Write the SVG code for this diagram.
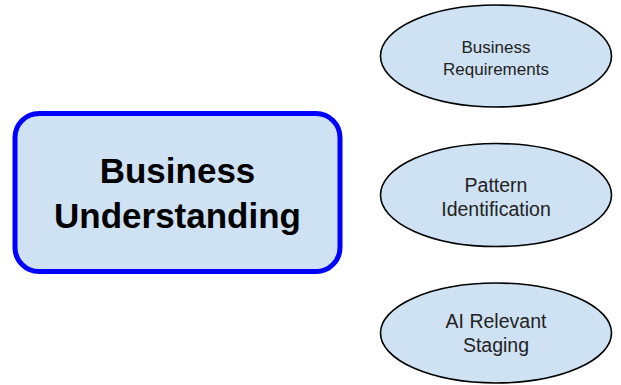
<svg xmlns="http://www.w3.org/2000/svg" width="621" height="385" viewBox="0 0 621 385">
<style>
.main{fill:#cfe2f3;stroke:#0000ff;stroke-width:5}
.ell{fill:#cfe2f3;stroke:#000;stroke-width:1.6}
.title{font-family:"Liberation Sans",Arial,sans-serif;font-weight:bold;font-size:35px;fill:#000;text-anchor:middle}
.lbl{font-family:"Liberation Sans",Arial,sans-serif;fill:#222;text-anchor:middle}
</style>
<rect width="621" height="385" fill="#fff"/>
<g id="business-understanding">
<rect class="main" x="15" y="113.5" width="325" height="158" rx="24" ry="24"/>
<text class="title" x="177.5" y="183">Business</text>
<text class="title" x="177.5" y="227.5">Understanding</text>
</g>
<g id="business-requirements">
<ellipse class="ell" cx="496" cy="56" rx="115.5" ry="51"/>
<text class="lbl" x="496" y="53" font-size="17">Business</text>
<text class="lbl" x="496" y="75" font-size="17">Requirements</text>
</g>
<g id="pattern-identification">
<ellipse class="ell" cx="496" cy="195" rx="115.5" ry="51.5"/>
<text class="lbl" x="496" y="192" font-size="19.5">Pattern</text>
<text class="lbl" x="496" y="216" font-size="19.5">Identification</text>
</g>
<g id="ai-relevant-staging">
<ellipse class="ell" cx="496" cy="333" rx="115.5" ry="50"/>
<text class="lbl" x="496" y="328" font-size="19.5">AI Relevant</text>
<text class="lbl" x="496" y="352" font-size="19.5">Staging</text>
</g>
<g id="connectors"></g>
</svg>
